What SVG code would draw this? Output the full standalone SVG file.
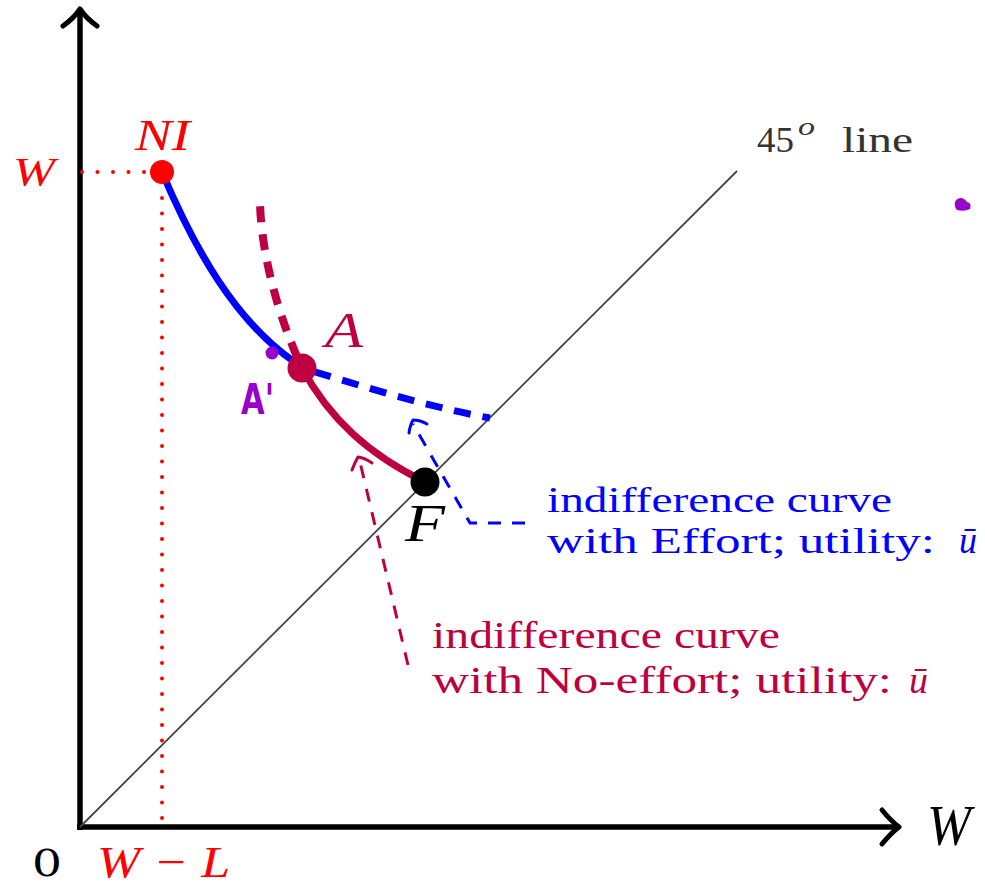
<svg xmlns="http://www.w3.org/2000/svg" width="985" height="886" viewBox="0 0 985 886">
<style>
.ax{stroke:#000;stroke-width:5.5;fill:none}
.tip{stroke:#000;stroke-width:5;fill:none;stroke-linecap:round;stroke-linejoin:round}
.dot{stroke:#ff0000;stroke-width:4;stroke-linecap:round;stroke-dasharray:0 15.5;fill:none}
.serif{font-family:"Liberation Serif","Times New Roman",serif}
.it{font-family:"Liberation Serif","Times New Roman",serif;font-style:italic}
.blue{fill:#0000ff}
.maroon{fill:#bf0040}
.red{fill:#ff0000}
.lead{fill:none;stroke-width:3;stroke-dasharray:13 11}
.leadtip{fill:none;stroke-width:3;stroke-linecap:round;stroke-linejoin:round}
</style>
<rect width="985" height="886" fill="#fff"/>

<g id="axes">
  <line class="ax" x1="80" y1="830" x2="80" y2="11"/>
  <line class="ax" x1="77" y1="827" x2="897" y2="827"/>
  <path class="tip" d="M63,26 Q74,18 80,9 Q86,18 97,26"/>
  <path class="tip" d="M882,810 Q891,821 899,827 Q891,833 882,844"/>
  <line x1="80" y1="827" x2="737" y2="171" stroke="#444" stroke-width="1.8"/>
</g>

<g id="guides">
  <line class="dot" x1="82" y1="172" x2="150" y2="172"/>
  <line class="dot" x1="162" y1="818" x2="162" y2="184"/>
</g>

<g id="connectors">
  <path d="M162,172 C195,250 235,320 293,361" fill="none" stroke="#0000ff" stroke-width="7"/>
  <path d="M302,368 C362,386 424,406 490,418" fill="none" stroke="#0000ff" stroke-width="7" stroke-dasharray="17 12" stroke-dashoffset="-13"/>
  <path d="M302,368 C280,320 262,260 260,204" fill="none" stroke="#bf0040" stroke-width="8" stroke-dasharray="16 12" stroke-dashoffset="-12"/>
  <path d="M302,368 C330,420 370,455 425,482" fill="none" stroke="#bf0040" stroke-width="7"/>
  <path class="lead" stroke="#0000ff" d="M525,523 L470,523 L413,424"/>
  <path class="leadtip" stroke="#0000ff" d="M409,433 Q410,425 413,420 Q420,420 427,424"/>
  <path class="lead" stroke="#bf0040" d="M408,665 L360,462"/>
  <path class="leadtip" stroke="#bf0040" d="M352,470 Q355,462 358,457 Q365,458 372,463"/>
</g>

<g id="node-NI">
  <circle cx="162" cy="172" r="12" fill="#ff0000"/>
  <text class="it red" x="135" y="150" font-size="44" textLength="55" lengthAdjust="spacingAndGlyphs">NI</text>
</g>

<g id="node-A">
  <circle cx="302" cy="368" r="14.5" fill="#bf0040"/>
  <text class="it maroon" x="325" y="347" font-size="50" textLength="38" lengthAdjust="spacingAndGlyphs">A</text>
</g>

<g id="node-F">
  <circle cx="425" cy="482" r="14.5" fill="#000"/>
  <text class="it" x="405" y="541" font-size="52" textLength="40" lengthAdjust="spacingAndGlyphs" fill="#000">F</text>
</g>

<g id="annotations">
  <circle cx="272" cy="353" r="6.5" fill="#9900cc"/>
  <text x="241" y="414" font-family="'DejaVu Sans',sans-serif" font-weight="bold" font-size="42" fill="#9900cc" textLength="33" lengthAdjust="spacingAndGlyphs">A'</text>
  <path d="M956,200 Q962,195 967,202 Q972,203 970,209 Q964,212 957,210 Q953,205 956,200 Z" fill="#9900cc"/>
</g>

<g id="labels">
  <text class="it red" x="13" y="185" font-size="40" textLength="42" lengthAdjust="spacingAndGlyphs">W</text>
  <text class="it red" x="97" y="877" font-size="44" textLength="133" lengthAdjust="spacingAndGlyphs">W − L</text>
  <text x="32" y="876" font-family="'DejaVu Serif',serif" font-size="38" textLength="30" lengthAdjust="spacingAndGlyphs" fill="#000">0</text>
  <text class="it" x="927" y="845" font-size="58" textLength="44" lengthAdjust="spacingAndGlyphs" fill="#000">W</text>
  <g fill="#333">
    <text class="serif" x="757" y="152" font-size="36" textLength="37" lengthAdjust="spacingAndGlyphs">45</text>
    <text class="it" x="798" y="135" font-size="26" textLength="17" lengthAdjust="spacingAndGlyphs">o</text>
    <text class="serif" x="842" y="152" font-size="36" textLength="71" lengthAdjust="spacingAndGlyphs">line</text>
  </g>
  <text class="serif blue" x="547" y="512" font-size="36" textLength="345" lengthAdjust="spacingAndGlyphs">indifference curve</text>
  <text class="serif blue" x="547" y="553" font-size="36" textLength="388" lengthAdjust="spacingAndGlyphs">with Effort; utility:</text>
  <text class="it blue" x="959" y="553" font-size="38" textLength="18" lengthAdjust="spacingAndGlyphs">ū</text>
  <text class="serif maroon" x="432" y="648" font-size="38" textLength="348" lengthAdjust="spacingAndGlyphs">indifference curve</text>
  <text class="serif maroon" x="432" y="693" font-size="38" textLength="460" lengthAdjust="spacingAndGlyphs">with No-effort; utility:</text>
  <text class="it maroon" x="909" y="693" font-size="38" textLength="19" lengthAdjust="spacingAndGlyphs">ū</text>
</g>
</svg>
